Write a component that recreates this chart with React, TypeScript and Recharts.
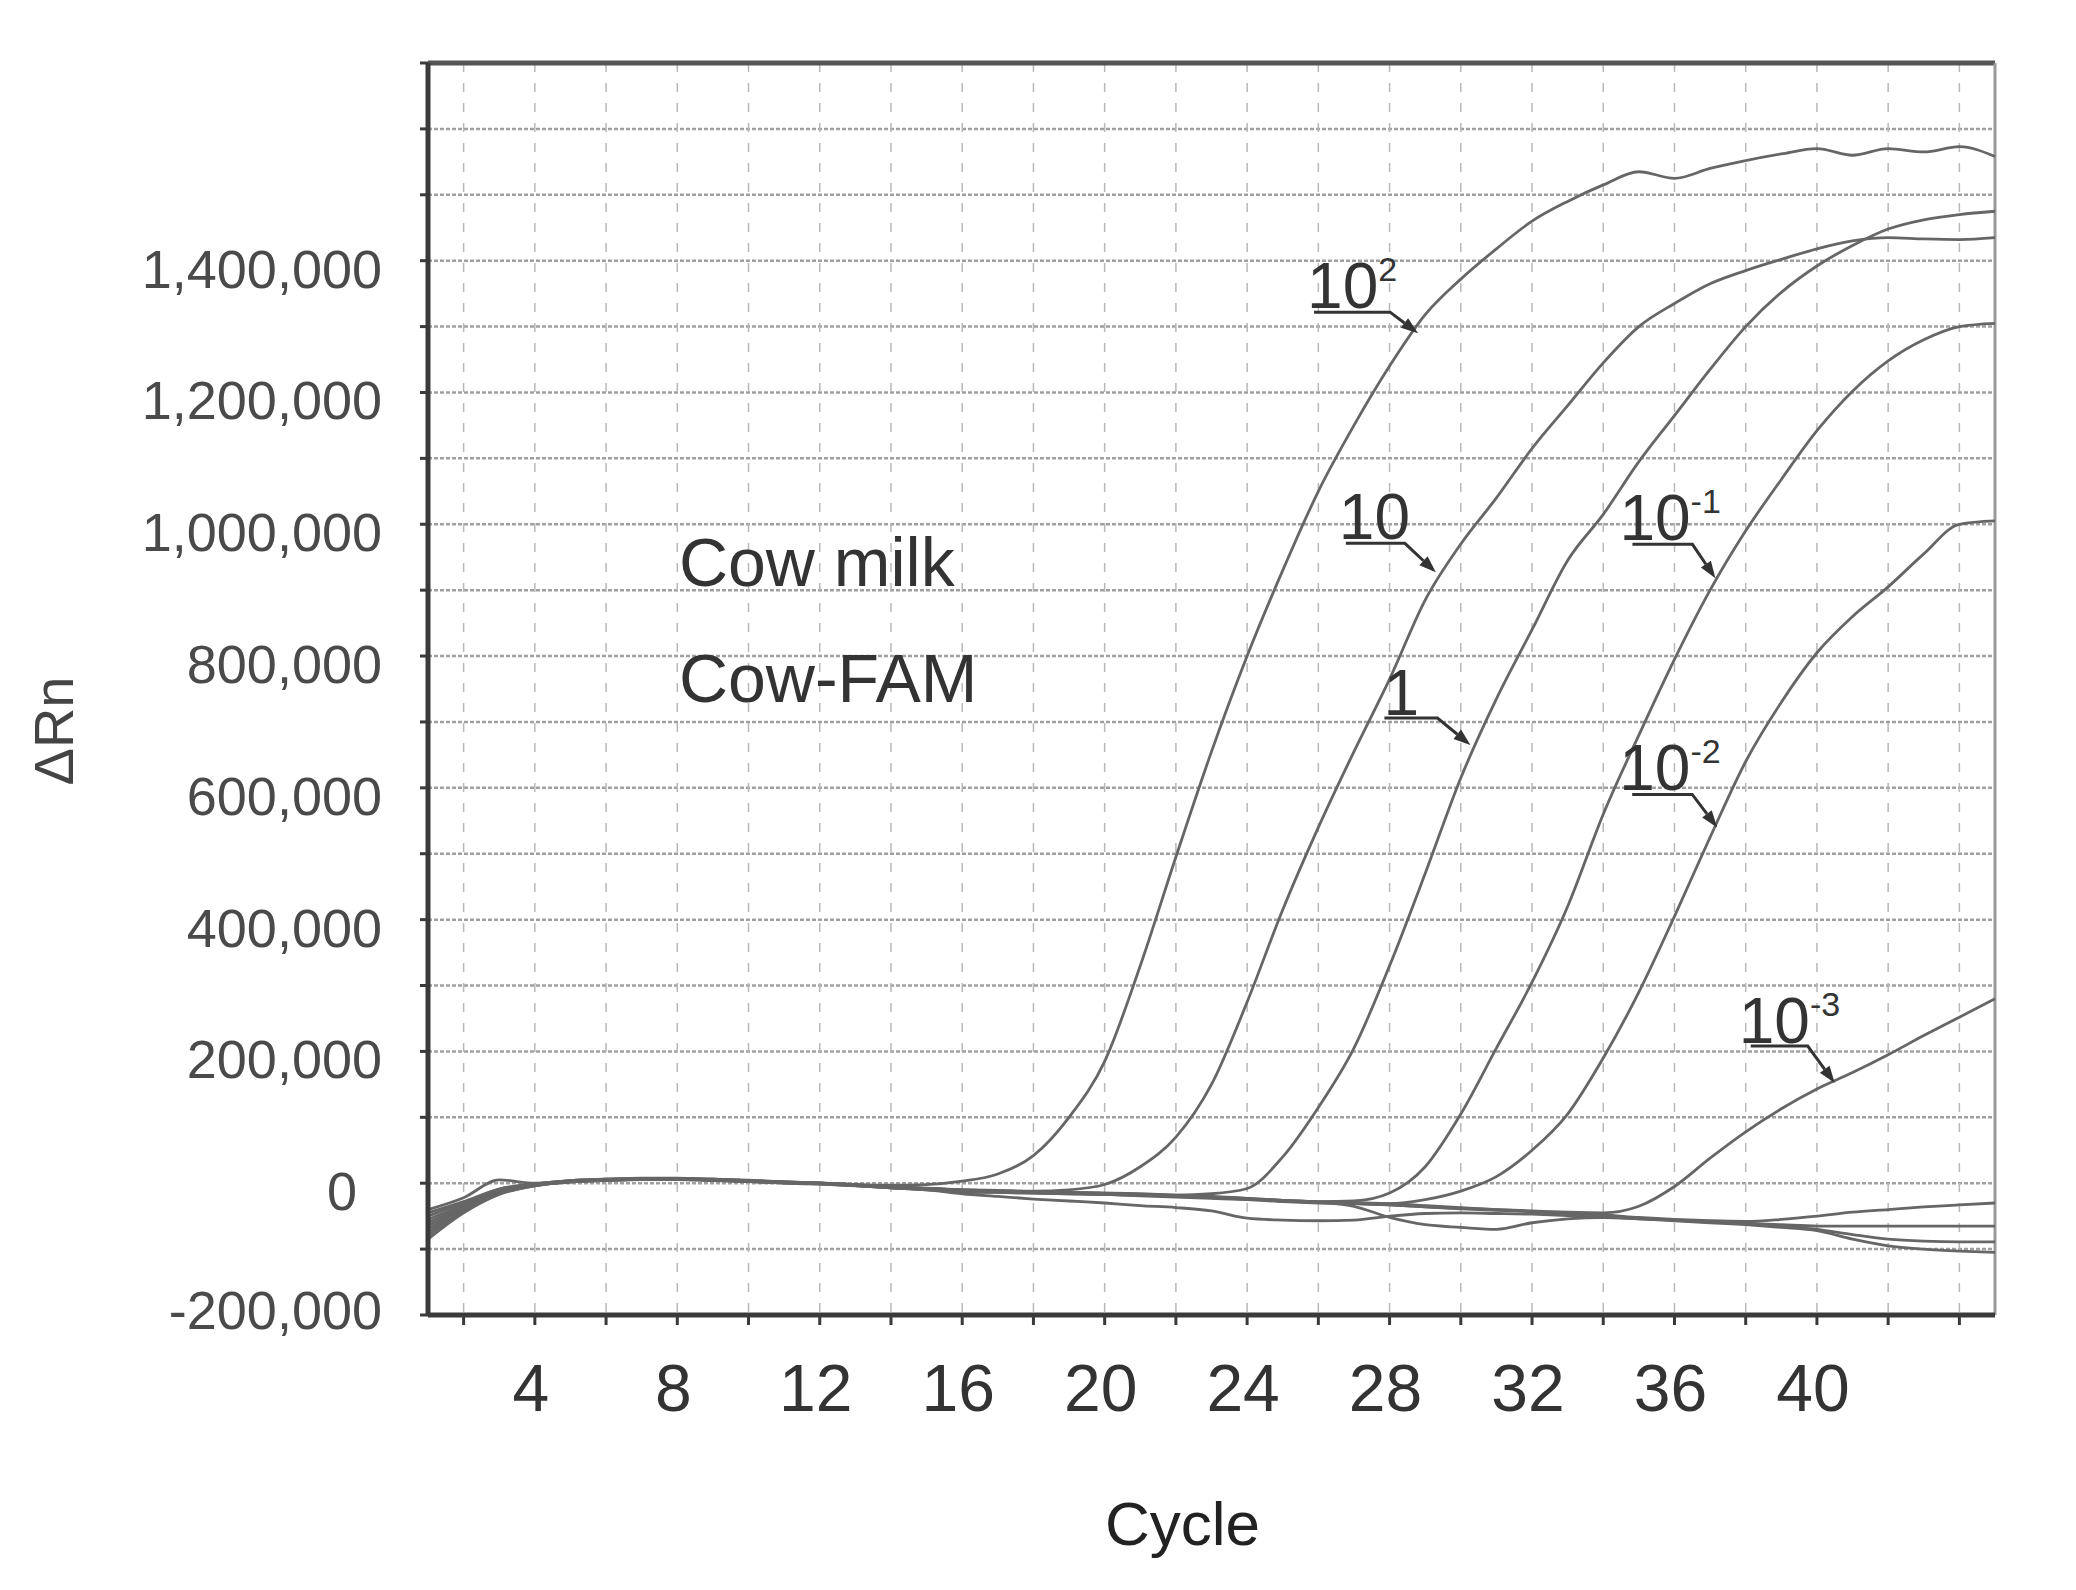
import React from 'react';
import {
  LineChart,
  Line,
  XAxis,
  YAxis,
  CartesianGrid,
  ReferenceLine,
  ReferenceDot,
} from 'recharts';

// cycle numbers on the x axis
const cycles = [
  1, 2, 3, 4, 5, 6, 7, 8, 9, 10, 11, 12, 13, 14, 15, 16, 17, 18, 19, 20, 21, 22, 23,
  24, 25, 26, 27, 28, 29, 30, 31, 32, 33, 34, 35, 36, 37, 38, 39, 40, 41, 42, 43, 44, 45,
];

// ΔRn per cycle, one array per dilution
const dil1e2 = [
  -45000, -28000, -9000, -1000, 4000, 6000, 7000, 7000, 6000, 4000, 2000, 0, -2000, -3000, -2000,
  3000, 14000, 42000, 100000, 185000, 330000, 495000, 655000, 800000, 930000, 1050000, 1150000,
  1240000, 1318000, 1372000, 1418000, 1460000, 1490000, 1515000, 1535000, 1525000, 1540000,
  1552000, 1562000, 1570000, 1560000, 1570000, 1565000, 1573000, 1558000,
];
const dil1e1 = [
  -55000, -33000, -12000, -2000, 3000, 5000, 6500, 6500, 5000, 3500, 1000, 0, -2500, -6000, -8000,
  -10000, -11000, -12000, -10000, -2000, 25000, 70000, 150000, 275000, 415000, 540000, 655000,
  765000, 885000, 970000, 1040000, 1115000, 1180000, 1245000, 1300000, 1335000, 1365000, 1385000,
  1402000, 1418000, 1430000, 1435000, 1433000, 1432000, 1435000,
];
const dil1 = [
  -70000, -38000, -14000, -3000, 2000, 5000, 6000, 6500, 5000, 3000, 1000, -500, -3000, -6000, -9000,
  -11000, -13000, -14000, -15000, -16000, -17000, -18000, -16000, -8000, 40000, 115000, 205000,
  330000, 470000, 615000, 735000, 840000, 945000, 1015000, 1095000, 1165000, 1235000, 1300000,
  1352000, 1392000, 1423000, 1448000, 1462000, 1470000, 1475000,
];
const dil1em1 = [
  -80000, -42000, -16000, -4000, 2000, 4500, 6000, 6000, 4500, 3000, 500, -1000, -3500, -7000, -9000,
  -12000, -13000, -14000, -15000, -16000, -18000, -20000, -22000, -24000, -26000, -28000, -27000,
  -15000, 25000, 105000, 205000, 305000, 420000, 560000, 680000, 795000, 900000, 990000, 1068000,
  1142000, 1202000, 1248000, 1280000, 1300000, 1305000,
];
const dil1em2 = [
  -60000, -35000, -12000, -2000, 3000, 5500, 7000, 7000, 5500, 4000, 1500, 0, -2000, -5000, -8000,
  -10000, -12000, -13000, -14000, -15000, -17000, -19000, -21000, -24000, -27000, -29000, -30000,
  -31000, -25000, -12000, 10000, 50000, 105000, 190000, 290000, 405000, 525000, 640000, 730000,
  805000, 860000, 905000, 955000, 1000000, 1005000,
];
const dil1em3 = [
  -50000, -30000, -9000, -1000, 4000, 6000, 7500, 7500, 6000, 4500, 2000, 500, -2000, -5500, -7500,
  -10000, -12000, -13000, -15000, -17000, -19000, -21000, -23000, -25000, -28000, -30000, -31000,
  -33000, -36000, -38000, -40000, -42000, -44000, -45000, -35000, -5000, 38000, 78000, 113000,
  143000, 168000, 195000, 224000, 252000, 280000,
];
const neg1 = [
  -40000, -22000, 5000, 0, 4000, 6000, 7000, 7000, 6000, 4000, 2000, 0, -2500, -6000, -8000,
  -12000, -14000, -15000, -16000, -17000, -18000, -20000, -22000, -24000, -27000, -29000, -31000,
  -33000, -36000, -39000, -41000, -43000, -46000, -48000, -52000, -55000, -57000, -58000, -55000,
  -50000, -44000, -40000, -36000, -33000, -30000,
];
const neg2 = [
  -65000, -36000, -13000, -3000, 2500, 5000, 6500, 6500, 5000, 3000, 500, -500, -3000, -6500, -9000,
  -11000, -12000, -13000, -14000, -15000, -16000, -18000, -20000, -23000, -26000, -28000, -30000,
  -31000, -34000, -37000, -40000, -43000, -47000, -50000, -53000, -56000, -59000, -61000, -63000,
  -65000, -65000, -65000, -65000, -65000, -65000,
];
const neg3 = [
  -75000, -40000, -15000, -3000, 2000, 4500, 6000, 6000, 4500, 3000, 500, -1000, -3500, -7000, -10000,
  -16000, -20000, -24000, -27000, -30000, -34000, -37000, -42000, -53000, -56000, -57000, -56000,
  -50000, -46000, -45000, -46000, -47000, -49000, -51000, -54000, -56000, -58000, -61000, -65000,
  -70000, -78000, -85000, -88000, -89000, -89000,
];
const neg4 = [
  -85000, -45000, -17000, -4000, 2000, 4000, 5500, 5500, 4000, 2500, 0, -1500, -4000, -7000, -10000,
  -13000, -14000, -15000, -16000, -17000, -18000, -19000, -21000, -23000, -26000, -29000, -35000,
  -52000, -63000, -67000, -70000, -60000, -54000, -52000, -54000, -57000, -60000, -63000, -67000,
  -72000, -85000, -95000, -100000, -103000, -105000,
];

const seriesKeys = ['d1e2', 'd1e1', 'd1', 'd1em1', 'd1em2', 'd1em3', 'n1', 'n2', 'n3', 'n4'];
const seriesValues = [dil1e2, dil1e1, dil1, dil1em1, dil1em2, dil1em3, neg1, neg2, neg3, neg4];

const xTicks = [2, 4, 6, 8, 10, 12, 14, 16, 18, 20, 22, 24, 26, 28, 30, 32, 34, 36, 38, 40, 42, 44];
const xLabels = [4, 8, 12, 16, 20, 24, 28, 32, 36, 40];
const yTicks = [
  -200000, -100000, 0, 100000, 200000, 300000, 400000, 500000, 600000, 700000, 800000, 900000,
  1000000, 1100000, 1200000, 1300000, 1400000, 1500000, 1600000, 1700000,
];
const yLabels = [-200000, 0, 200000, 400000, 600000, 800000, 1000000, 1200000, 1400000];

// dilution labels: arrow tip sits on the curve at (cycle, value)
const noteText = ['10', '10', '1', '10', '10', '10'];
const noteSup = ['2', '', '', '-1', '-2', '-3'];
const noteCycle = [28.8, 29.3, 30.27, 37.15, 37.2, 40.5];
const noteValue = [1290000, 927000, 665000, 918000, 540000, 152000];

const sampleText = ['Cow milk', 'Cow-FAM'];
const sampleCycle = [8.13, 8.13];
const sampleValue = [907000, 730000];

const data = cycles.map((cycle, i) => {
  const row: Record<string, number> = { cycle };
  seriesKeys.forEach((k, j) => {
    row[k] = seriesValues[j][i];
  });
  return row;
});

// pixel offsets of each label relative to its arrow tip
const noteLayout = [
  { tx: -111, ty: -25, u0: -104, u1: -28, uy: -21 },
  { tx: -97, ty: -33, u0: -90, u1: -31, uy: -29 },
  { tx: -87, ty: -30, u0: -86, u1: -33, uy: -27 },
  { tx: -96, ty: -38, u0: -83, u1: -23, uy: -34 },
  { tx: -98, ty: -37, u0: -85, u1: -25, uy: -33 },
  { tx: -96, ty: -40, u0: -84, u1: -27, uy: -37 },
];

const FONT = "'Liberation Sans', Arial, Helvetica, sans-serif";
const LINE = '#666';

function NoteMark({ cx, cy, idx }: { cx: number; cy: number; idx: number }) {
  const l = noteLayout[idx];
  const sx = cx + l.u1;
  const sy = cy + l.uy;
  const ang = Math.atan2(cy - sy, cx - sx);
  const head = 17;
  const hw = 6;
  const bx = cx - head * Math.cos(ang);
  const by = cy - head * Math.sin(ang);
  const px = -Math.sin(ang) * hw;
  const py = Math.cos(ang) * hw;
  return (
    <g>
      <text x={cx + l.tx} y={cy + l.ty} fontSize={64} fill="#333" fontFamily={FONT}>
        {noteText[idx]}
        {noteSup[idx] && (
          <tspan fontSize={34} dy={-27}>
            {noteSup[idx]}
          </tspan>
        )}
      </text>
      <path
        d={`M${cx + l.u0},${sy} L${sx},${sy} L${bx},${by}`}
        fill="none"
        stroke="#333"
        strokeWidth={3}
      />
      <path d={`M${cx},${cy} L${bx + px},${by + py} L${bx - px},${by - py} Z`} fill="#333" />
    </g>
  );
}

function YTick(props: any) {
  const { x, y, payload } = props;
  const v = payload.value as number;
  if (!yLabels.includes(v)) return <g />;
  const shift = v === 0 ? -25 : 0;
  const dy = v === -200000 ? 14 : 27;
  return (
    <text x={x + shift} y={y + dy} textAnchor="end" fontSize={54} fill="#4a4a4a" fontFamily={FONT}>
      {v.toLocaleString('en-US')}
    </text>
  );
}

function XTick(props: any) {
  const { x, y, payload } = props;
  const v = payload.value as number;
  if (!xLabels.includes(v)) return <g />;
  return (
    <text x={x - 4} y={y + 47} textAnchor="middle" fontSize={66} fill="#333" fontFamily={FONT}>
      {v}
    </text>
  );
}

export default function App() {
  return (
    <div style={{ position: 'absolute', left: 0, top: 0, width: 2076, height: 1590, background: '#fff' }}>
      <LineChart
        width={2076}
        height={1590}
        data={data}
        margin={{ top: 63, right: 81, bottom: 125, left: 128 }}
      >
        <CartesianGrid vertical={false} stroke="#a0a0a0" strokeWidth={2.5} strokeDasharray="4 2" />
        <CartesianGrid horizontal={false} stroke="#b8b8b8" strokeWidth={1.5} strokeDasharray="9 11" />
        <XAxis
          dataKey="cycle"
          type="number"
          domain={[1, 45]}
          ticks={xTicks}
          interval={0}
          height={150}
          tickSize={10}
          tickMargin={39}
          tick={<XTick />}
          axisLine={{ stroke: '#3a3a3a', strokeWidth: 5 }}
          tickLine={{ stroke: '#3a3a3a', strokeWidth: 3 }}
          label={{
            content: (p: any) => {
              const vb = p.viewBox || { x: 428, y: 1315, width: 1567 };
              return (
                <text
                  x={vb.x + vb.width / 2 - 29}
                  y={vb.y + 230}
                  textAnchor="middle"
                  fontSize={62}
                  fill="#222"
                  fontFamily={FONT}
                >
                  Cycle
                </text>
              );
            },
          }}
        />
        <YAxis
          type="number"
          domain={[-200000, 1700000]}
          ticks={yTicks}
          interval={0}
          width={300}
          tickSize={8}
          tickMargin={38}
          tick={<YTick />}
          axisLine={{ stroke: '#3a3a3a', strokeWidth: 5 }}
          tickLine={{ stroke: '#3a3a3a', strokeWidth: 3 }}
          label={{
            content: (p: any) => {
              const vb = p.viewBox || { x: 128, y: 63, height: 1252 };
              const cx = vb.x - 75;
              const cy = vb.y + vb.height / 2 + 42;
              return (
                <text
                  x={cx}
                  y={cy}
                  transform={`rotate(-90 ${cx} ${cy})`}
                  textAnchor="middle"
                  dominantBaseline="central"
                  fontSize={56}
                  fill="#444"
                  fontFamily={FONT}
                >
                  ΔRn
                </text>
              );
            },
          }}
        />
        <ReferenceLine y={1700000} stroke="#555" strokeWidth={5} />
        <ReferenceLine x={45} stroke="#999" strokeWidth={3} />
        {seriesKeys.map((k) => (
          <Line
            key={k}
            dataKey={k}
            type="monotone"
            stroke={LINE}
            strokeWidth={2.8}
            dot={false}
            isAnimationActive={false}
          />
        ))}
        {noteCycle.map((c, i) => (
          <ReferenceDot
            key={`note-${i}`}
            x={c}
            y={noteValue[i]}
            r={0}
            shape={(p: any) => <NoteMark cx={p.cx} cy={p.cy} idx={i} />}
          />
        ))}
        {sampleText.map((t, i) => (
          <ReferenceDot
            key={`sample-${i}`}
            x={sampleCycle[i]}
            y={sampleValue[i]}
            r={0}
            shape={(p: any) => (
              <text x={p.cx - 3} y={p.cy} fontSize={68} fill="#333" fontFamily={FONT}>
                {t}
              </text>
            )}
          />
        ))}
      </LineChart>
    </div>
  );
}
